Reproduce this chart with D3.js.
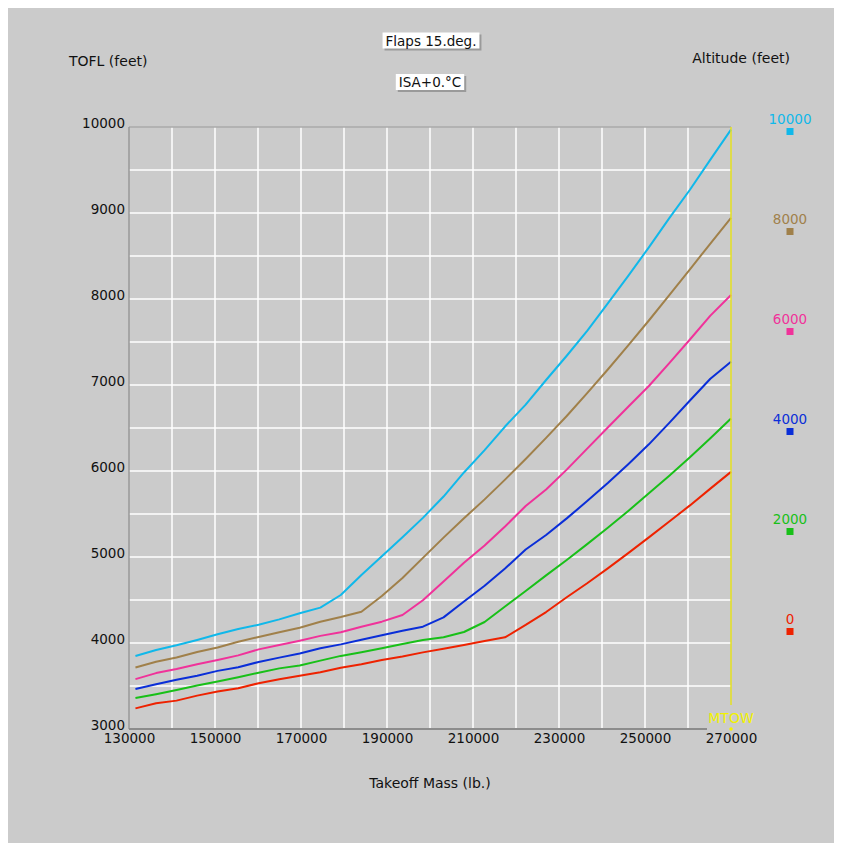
<!DOCTYPE html>
<html>
<head>
<meta charset="utf-8">
<script src="https://cdn.jsdelivr.net/npm/d3@7"></script>
<style>
  html, body { margin: 0; padding: 0; background: #ffffff; }
  svg { display: block; }
  text { font-family: "DejaVu Sans", sans-serif; }
</style>
</head>
<body>
<svg id="chart" width="842" height="845"></svg>
<script>
// Takeoff mass (lb.) at which each curve is tabulated
const masses = [131500, 136300, 141050, 145850, 150600, 155400, 160150, 164950, 169700, 174500,
  179250, 184050, 188800, 193600, 198350, 203150, 207900, 212700, 217450, 222250,
  227000, 231800, 236550, 241350, 246100, 250900, 255650, 260450, 265200, 270000];

// Takeoff field length (feet) for each pressure altitude
const tofl0 = [3240, 3300, 3330, 3388, 3435, 3474, 3532, 3578, 3620, 3661,
  3713, 3754, 3802, 3843, 3891, 3932, 3977, 4024, 4066, 4210,
  4360, 4532, 4695, 4868, 5045, 5228, 5412, 5600, 5795, 5990];
const tofl2000 = [3360, 3405, 3453, 3505, 3552, 3602, 3655, 3705, 3738, 3795,
  3850, 3893, 3940, 3989, 4035, 4067, 4128, 4244, 4424, 4605,
  4786, 4965, 5150, 5340, 5535, 5740, 5945, 6160, 6380, 6610];
const tofl4000 = [3465, 3520, 3572, 3620, 3676, 3717, 3780, 3830, 3879, 3940,
  3984, 4037, 4090, 4142, 4190, 4298, 4483, 4666, 4866, 5087,
  5256, 5449, 5650, 5860, 6079, 6310, 6560, 6820, 7072, 7270];
const tofl6000 = [3580, 3650, 3697, 3752, 3802, 3856, 3926, 3977, 4027, 4083,
  4125, 4190, 4248, 4326, 4497, 4715, 4934, 5134, 5355, 5593,
  5785, 6016, 6260, 6506, 6747, 6988, 7255, 7529, 7807, 8047];
const tofl8000 = [3715, 3781, 3831, 3895, 3948, 4015, 4070, 4124, 4177, 4248,
  4302, 4363, 4547, 4756, 4990, 5225, 5450, 5670, 5900, 6140,
  6385, 6640, 6905, 7180, 7460, 7750, 8045, 8345, 8645, 8942];
const tofl10000 = [3849, 3919, 3973, 4035, 4101, 4163, 4213, 4275, 4345, 4411,
  4558, 4791, 5009, 5230, 5455, 5703, 5983, 6242, 6517, 6772,
  7058, 7340, 7630, 7950, 8270, 8600, 8940, 9270, 9620, 9970];

const altitudes = [0, 2000, 4000, 6000, 8000, 10000];
const altitudeColors = ["#ee2200", "#18c018", "#0a2ed8", "#f0329a", "#a0804a", "#10b8ea"];
const seriesValues = [tofl0, tofl2000, tofl4000, tofl6000, tofl8000, tofl10000];

const xTickLabels = [130000, 150000, 170000, 190000, 210000, 230000, 250000, 270000];
const xGridValues = [140000, 150000, 160000, 170000, 180000, 190000, 200000, 210000, 220000, 230000, 240000, 250000, 260000];
const yTickLabels = [3000, 4000, 5000, 6000, 7000, 8000, 9000, 10000];
const yGridValues = [3500, 4000, 4500, 5000, 5500, 6000, 6500, 7000, 7500, 8000, 8500, 9000, 9500];
const mtow = 270000;

const svg = d3.select("#chart");

// grey panel
svg.append("rect").attr("x", 8).attr("y", 8).attr("width", 826).attr("height", 835).attr("fill", "#cbcbcb");

const x = d3.scaleLinear().domain([130000, 270000]).range([129, 731]);
const y = d3.scaleLinear().domain([3000, 10000]).range([729, 127]);

// grid
const grid = svg.append("g");
grid.selectAll("line.v").data(xGridValues).join("line")
  .attr("x1", d => x(d)).attr("x2", d => x(d))
  .attr("y1", y(10000)).attr("y2", y(3000))
  .attr("stroke", "#ffffff").attr("stroke-width", 1.5);
grid.selectAll("line.h").data(yGridValues).join("line")
  .attr("x1", x(130000)).attr("x2", x(270000))
  .attr("y1", d => y(d)).attr("y2", d => y(d))
  .attr("stroke", "#ffffff").attr("stroke-width", 1.5);

// frame: top border, left and bottom axis lines
svg.append("line").attr("x1", x(130000)).attr("x2", x(270000)).attr("y1", y(10000)).attr("y2", y(10000))
  .attr("stroke", "#aaaaaa").attr("stroke-width", 1.5);
svg.append("line").attr("x1", x(130000)).attr("x2", x(130000)).attr("y1", y(10000)).attr("y2", y(3000))
  .attr("stroke", "#999999").attr("stroke-width", 1.5);
svg.append("line").attr("x1", x(130000)).attr("x2", x(270000)).attr("y1", y(3000)).attr("y2", y(3000))
  .attr("stroke", "#8c8c8c").attr("stroke-width", 2);

// axis tick labels
const xAxis = d3.axisBottom(x).tickValues(xTickLabels).tickSize(0).tickPadding(0).tickFormat(d3.format("d"));
const gx = svg.append("g").attr("transform", `translate(0,${y(3000)})`).call(xAxis);
gx.select(".domain").remove();
gx.selectAll("text").attr("dy", null).attr("y", 14)
  .attr("font-family", "DejaVu Sans").attr("font-size", 13.5).attr("fill", "#111");

const yAxis = d3.axisLeft(y).tickValues(yTickLabels).tickSize(0).tickPadding(0).tickFormat(d3.format("d"));
const gy = svg.append("g").attr("transform", `translate(${x(130000) - 4},0)`).call(yAxis);
gy.select(".domain").remove();
gy.selectAll("text").attr("dy", null).attr("x", 0)
  .attr("font-family", "DejaVu Sans").attr("font-size", 13.5).attr("fill", "#111");

// curves
const line = d3.line().x((d, i) => x(masses[i])).y(d => y(d));
svg.append("g").selectAll("path").data(seriesValues).join("path")
  .attr("d", d => line(d))
  .attr("fill", "none")
  .attr("stroke", (d, i) => altitudeColors[i])
  .attr("stroke-width", 2)
  .attr("stroke-linejoin", "round");

// MTOW marker
svg.append("line").attr("x1", x(mtow)).attr("x2", x(mtow)).attr("y1", y(10000)).attr("y2", y(3000) - 24)
  .attr("stroke", "#e4e020").attr("stroke-width", 1.5);
svg.append("rect").attr("x", x(mtow) - 24).attr("y", y(3000) - 19).attr("width", 48).attr("height", 20)
  .attr("fill", "#cbcbcb");
svg.append("text").attr("x", x(mtow)).attr("y", y(3000) - 6).attr("text-anchor", "middle")
  .attr("font-size", 14).attr("fill", "#f2f200").text("MTOW");
svg.append("circle").attr("cx", x(mtow)).attr("cy", y(3000)).attr("r", 1.8).attr("fill", "#f2f200");

// altitude legend
const legendY = d3.scalePoint().domain(altitudes.slice().reverse()).range([124, 624]);
const legend = svg.append("g").selectAll("g").data(altitudes).join("g")
  .attr("transform", d => `translate(790,${legendY(d)})`);
legend.append("text").attr("text-anchor", "middle").attr("font-size", 13.5)
  .attr("fill", (d, i) => altitudeColors[i]).text(d => d);
legend.append("rect").attr("x", -3.5).attr("y", 4).attr("width", 7).attr("height", 7)
  .attr("fill", (d, i) => altitudeColors[i]);

// axis titles
svg.append("text").attr("x", 69).attr("y", 66).attr("font-size", 14).attr("fill", "#111").text("TOFL (feet)");
svg.append("text").attr("x", 790).attr("y", 63).attr("text-anchor", "end").attr("font-size", 14).attr("fill", "#111").text("Altitude (feet)");
svg.append("text").attr("x", 430).attr("y", 788).attr("text-anchor", "middle").attr("font-size", 14).attr("fill", "#111").text("Takeoff Mass (lb.)");

// boxed chart conditions
function boxedLabel(cx, baseline, label) {
  const g = svg.append("g");
  const t = g.append("text").attr("x", cx).attr("y", baseline).attr("text-anchor", "middle")
    .attr("font-size", 13.5).attr("fill", "#111").text(label);
  const b = t.node().getBBox();
  g.insert("rect", "text").attr("x", b.x - 3 + 2).attr("y", b.y + 2).attr("width", b.width + 6).attr("height", b.height)
    .attr("fill", "#9a9a9a");
  g.insert("rect", "text").attr("x", b.x - 3).attr("y", b.y).attr("width", b.width + 6).attr("height", b.height)
    .attr("fill", "#ffffff");
}
boxedLabel(431, 45.5, "Flaps 15.deg.");
boxedLabel(430, 87, "ISA+0.°C");
</script>
</body>
</html>
